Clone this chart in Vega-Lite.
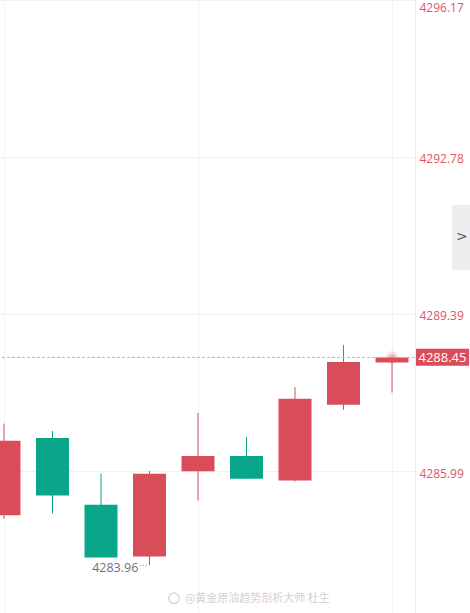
{
  "$schema": "https://vega.github.io/schema/vega-lite/v6.json",
  "width": 415,
  "height": 613,
  "autosize": {"type": "none"},
  "padding": {"left": 0, "top": 0, "right": 55, "bottom": 0},
  "background": "white",
  "config": {"view": {"stroke": null}, "font": "Open Sans"},
  "datasets": {
    "candles": [
      {"t": 1, "open": 4285.04, "high": 4287.02, "low": 4284.96, "close": 4286.65},
      {"t": 2, "open": 4286.71, "high": 4286.86, "low": 4285.08, "close": 4285.47},
      {"t": 3, "open": 4285.27, "high": 4285.94, "low": 4284.13, "close": 4284.13},
      {"t": 4, "open": 4284.15, "high": 4286.00, "low": 4283.96, "close": 4285.94},
      {"t": 5, "open": 4285.99, "high": 4287.25, "low": 4285.36, "close": 4286.32},
      {"t": 6, "open": 4286.32, "high": 4286.73, "low": 4285.83, "close": 4285.83},
      {"t": 7, "open": 4285.79, "high": 4287.81, "low": 4285.77, "close": 4287.56},
      {"t": 8, "open": 4287.43, "high": 4288.72, "low": 4287.32, "close": 4288.35},
      {"t": 9, "open": 4288.34, "high": 4288.45, "low": 4287.69, "close": 4288.45}
    ]
  },
  "layer": [
    {
      "data": {"name": "candles"},
      "mark": {"type": "rule", "strokeWidth": 1},
      "encoding": {
        "x": {
          "field": "t", "type": "quantitative",
          "scale": {"domain": [0.9175, 9.474], "nice": false, "zero": false, "padding": 0},
          "axis": {"values": [1, 5, 9], "labels": false, "ticks": false, "domain": false, "title": null, "grid": true, "gridColor": "#f2f2f5", "gridWidth": 1}
        },
        "y": {
          "field": "low", "type": "quantitative",
          "scale": {"domain": [4282.93, 4296.17], "nice": false, "zero": false, "padding": 0},
          "axis": {
            "orient": "right", "title": null,
            "values": [4285.99, 4289.39, 4292.78, 4296.17],
            "format": ".2f",
            "ticks": false, "labelPadding": 4, "labelOffset": 2,
            "labelFlush": true,
            "labelColor": "#e05563", "labelFontSize": 12, "labelFont": "Open Sans",
            "domain": true, "domainColor": "#ececf0", "domainWidth": 1,
            "grid": true, "gridColor": "#f0f0f3", "gridWidth": 1
          }
        },
        "y2": {"field": "high"},
        "color": {"condition": {"test": "datum.close >= datum.open", "value": "#d94c59"}, "value": "#0aa68a"}
      }
    },
    {
      "data": {"name": "candles"},
      "mark": {"type": "bar", "size": 33},
      "encoding": {
        "x": {"field": "t", "type": "quantitative"},
        "y": {"field": "open", "type": "quantitative"},
        "y2": {"field": "close"},
        "color": {"condition": {"test": "datum.close >= datum.open", "value": "#d94c59"}, "value": "#0aa68a"}
      }
    },
    {
      "data": {"values": [{"price": 4288.45}]},
      "mark": {"type": "rule", "color": "#e3a3ab", "strokeDash": [3, 2], "strokeWidth": 1},
      "encoding": {"y": {"field": "price", "type": "quantitative"}}
    },
    {
      "data": {"values": [{"t": 9, "price": 4288.45}]},
      "mark": {"type": "point", "filled": true, "color": "#e05563", "opacity": 0.15, "size": 160},
      "encoding": {"x": {"field": "t", "type": "quantitative"}, "y": {"field": "price", "type": "quantitative"}}
    },
    {
      "data": {"values": [{"t": 9, "price": 4288.45}]},
      "mark": {"type": "point", "filled": true, "color": "#e05563", "opacity": 0.3, "size": 50},
      "encoding": {"x": {"field": "t", "type": "quantitative"}, "y": {"field": "price", "type": "quantitative"}}
    },
    {
      "data": {"values": [{"x0": 9.495, "x1": 10.59, "y0": 4288.27, "y1": 4288.64}]},
      "mark": {"type": "rect", "color": "#d94c59", "clip": false},
      "encoding": {
        "x": {"field": "x0", "type": "quantitative"}, "x2": {"field": "x1"},
        "y": {"field": "y0", "type": "quantitative"}, "y2": {"field": "y1"}
      }
    },
    {
      "data": {"values": [{"x": 10.04, "price": 4288.45, "label": "4288.45"}]},
      "mark": {"type": "text", "color": "white", "fontSize": 13, "font": "Open Sans", "fontWeight": 500, "align": "center", "baseline": "middle", "dy": 1},
      "encoding": {"x": {"field": "x", "type": "quantitative"}, "y": {"field": "price", "type": "quantitative"}, "text": {"field": "label"}}
    },
    {
      "data": {"values": [{"x": 3.77, "price": 4283.96, "label": "4283.96"}]},
      "mark": {"type": "text", "color": "#6b6f80", "fontSize": 12.5, "font": "Open Sans", "align": "right", "baseline": "middle", "dy": 3},
      "encoding": {"x": {"field": "x", "type": "quantitative"}, "y": {"field": "price", "type": "quantitative"}, "text": {"field": "label"}}
    },
    {
      "data": {"values": [{"x0": 3.8, "x1": 3.97, "price": 4283.96}]},
      "mark": {"type": "rule", "color": "#8a8d9a", "strokeDash": [1, 2], "strokeWidth": 1},
      "encoding": {"x": {"field": "x0", "type": "quantitative"}, "x2": {"field": "x1"}, "y": {"field": "price", "type": "quantitative"}}
    },
    {
      "data": {"values": [{"x0": 10.24, "x1": 10.62, "y0": 4290.34, "y1": 4291.75}]},
      "mark": {"type": "rect", "color": "#ededf0", "clip": false},
      "encoding": {
        "x": {"field": "x0", "type": "quantitative"}, "x2": {"field": "x1"},
        "y": {"field": "y0", "type": "quantitative"}, "y2": {"field": "y1"}
      }
    },
    {
      "data": {"values": [{"x": 10.44, "price": 4291.06, "label": ">"}]},
      "mark": {"type": "text", "color": "#55596a", "fontSize": 14, "font": "DejaVu Sans", "align": "center", "baseline": "middle"},
      "encoding": {"x": {"field": "x", "type": "quantitative"}, "y": {"field": "price", "type": "quantitative"}, "text": {"field": "label"}}
    },
    {
      "data": {"values": [{"x": 4.505, "price": 4283.25}]},
      "mark": {"type": "point", "shape": "circle", "filled": false, "color": "#c8c8cc", "strokeWidth": 1.5, "size": 110},
      "encoding": {"x": {"field": "x", "type": "quantitative"}, "y": {"field": "price", "type": "quantitative"}}
    },
    {
      "data": {"values": [{"x": 4.73, "price": 4283.24, "label": "@黄金原油趋势剖析大师 杜生"}]},
      "mark": {"type": "text", "color": "#d2d2d6", "fontSize": 11, "font": "Noto Sans CJK SC", "align": "left", "baseline": "middle", "clip": false},
      "encoding": {"x": {"field": "x", "type": "quantitative"}, "y": {"field": "price", "type": "quantitative"}, "text": {"field": "label"}}
    }
  ]
}
